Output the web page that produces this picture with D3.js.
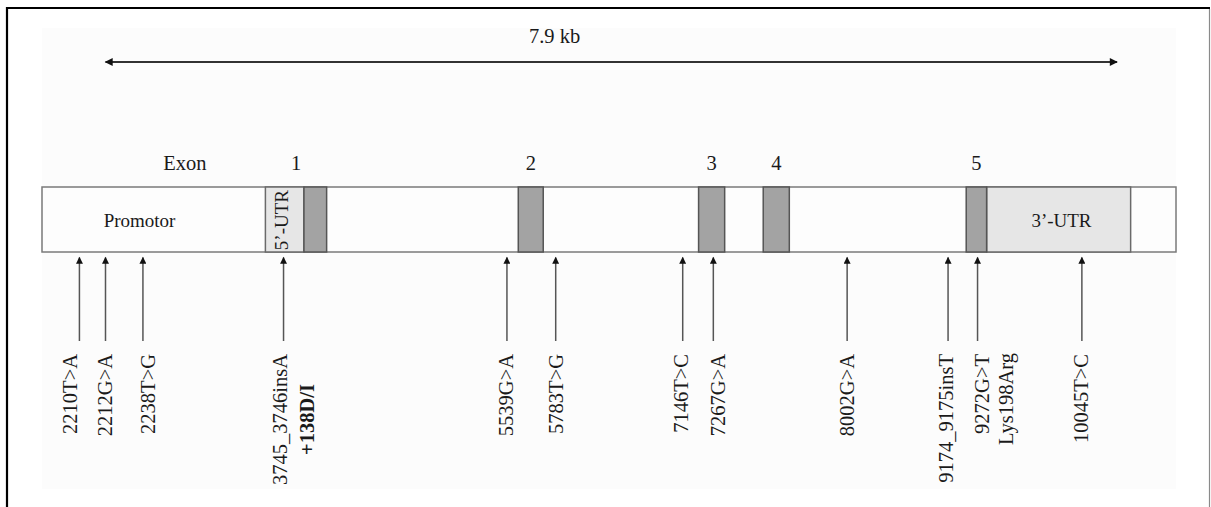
<!DOCTYPE html>
<html>
<head>
<meta charset="utf-8">
<script src="https://cdn.jsdelivr.net/npm/d3@7/dist/d3.min.js"></script>
<style>
  html, body { margin: 0; padding: 0; background: #ffffff; }
  svg { display: block; }
  text { font-family: "Liberation Serif", "Times New Roman", serif; fill: #1a1a1a; }
</style>
</head>
<body>
<script>
// ---------------- DATA (schematic positions along the gene bar, 0–100 %) ----------------
const spanLabel = "7.9 kb";
const spanRange = [5.6, 94.8];

const regionLabels = ["Promotor", "5’-UTR", "3’-UTR"];
const regionStart  = [0.0, 19.7, 83.3];
const regionEnd    = [19.7, 23.1, 96.0];

const exonNumbers = ["1", "2", "3", "4", "5"];
const exonStart   = [23.1, 42.0, 57.9, 63.6, 81.5];
const exonEnd     = [25.1, 44.2, 60.2, 65.9, 83.3];

const variantNames = ["2210T>A", "2212G>A", "2238T>G", "3745_3746insA", "5539G>A", "5783T>G",
                      "7146T>C", "7267G>A", "8002G>A", "9174_9175insT", "9272G>T", "10045T>C"];
const variantNotes = ["", "", "", "+138D/I", "", "", "", "", "", "", "Lys198Arg", ""];
const variantPos   = [3.3, 5.6, 8.9, 21.3, 41.0, 45.3, 56.5, 59.2, 71.0, 79.9, 82.5, 91.7];

// ---------------- LAYOUT ----------------
const W = 1211, H = 507;
const barTop = 187, barBottom = 252;
const fontSize = 20.5;
const x = d3.scaleLinear().domain([0, 100]).range([42, 1176]);
// small hand nudges of label columns relative to their arrows (px)
const labelNudge = [-9, 0, 6, -3.5, 0, 1, -1.5, 5, 0, -2, 5, 0];
// hand placement of the horizontal in-bar labels (bar units) and their size
const regionLabelAt = { "Promotor": 8.6, "3’-UTR": 89.9 };
const regionLabelSize = 19;

const svg = d3.select("body").append("svg").attr("width", W).attr("height", H);

const defs = svg.append("defs");
defs.append("marker").attr("id", "headBig").attr("viewBox", "0 0 10 10")
  .attr("refX", 9).attr("refY", 5).attr("markerWidth", 11).attr("markerHeight", 8)
  .attr("markerUnits", "userSpaceOnUse").attr("orient", "auto-start-reverse")
  .append("path").attr("d", "M0,0 L10,5 L0,10 Z").attr("fill", "#111");
defs.append("marker").attr("id", "headSmall").attr("viewBox", "0 0 10 10")
  .attr("refX", 9).attr("refY", 5).attr("markerWidth", 8).attr("markerHeight", 7)
  .attr("markerUnits", "userSpaceOnUse").attr("orient", "auto")
  .append("path").attr("d", "M0,0 L10,5 L0,10 Z").attr("fill", "#111");

// frame
svg.append("rect").attr("x", 42).attr("y", 28).attr("width", x(100) - 42).attr("height", 461)
  .attr("fill", "#fcfcfc");
svg.append("line").attr("x1", 6).attr("x2", 1210).attr("y1", 8).attr("y2", 8)
  .attr("stroke", "#000").attr("stroke-width", 2.2);
svg.append("line").attr("x1", 7).attr("x2", 7).attr("y1", 7).attr("y2", H)
  .attr("stroke", "#000").attr("stroke-width", 2.2);
svg.append("line").attr("x1", 1209.5).attr("x2", 1209.5).attr("y1", 9).attr("y2", H)
  .attr("stroke", "#8a8a8a").attr("stroke-width", 1.2);

// span arrow
const yS = 62;
svg.append("line").attr("x1", x(spanRange[0])).attr("x2", x(spanRange[1]))
  .attr("y1", yS).attr("y2", yS).attr("stroke", "#333").attr("stroke-width", 2.2)
  .attr("marker-start", "url(#headBig)").attr("marker-end", "url(#headBig)");
svg.append("text").attr("x", x(45.2)).attr("y", 43).attr("text-anchor", "middle")
  .attr("font-size", fontSize).text(spanLabel);

// gene bar
svg.append("rect").attr("x", x(0)).attr("y", barTop).attr("width", x(100) - x(0))
  .attr("height", barBottom - barTop).attr("fill", "#fdfdfd")
  .attr("stroke", "#7a7a7a").attr("stroke-width", 1.5);

// UTR regions
const regions = regionLabels.map((l, i) => ({ label: l, s: regionStart[i], e: regionEnd[i] }));
regions.forEach((r, i) => {
  if (r.label.includes("UTR")) {
    defs.append("clipPath").attr("id", "clip" + i).append("rect")
      .attr("x", x(r.s)).attr("y", barTop).attr("width", x(r.e) - x(r.s)).attr("height", barBottom - barTop);
    svg.append("rect").attr("x", x(r.s)).attr("y", barTop).attr("width", x(r.e) - x(r.s))
      .attr("height", barBottom - barTop).attr("fill", "#e6e6e6")
      .attr("stroke", "#6a6a6a").attr("stroke-width", 1.5);
  }
});
// region labels
regions.forEach((r, i) => {
  const w = x(r.e) - x(r.s);
  if (w > 80) {
    const cx = regionLabelAt[r.label] !== undefined ? x(regionLabelAt[r.label]) : (x(r.s) + x(r.e)) / 2;
    svg.append("text").attr("x", cx).attr("y", 227)
      .attr("text-anchor", "middle").attr("font-size", regionLabelSize).text(r.label);
  } else {
    svg.append("g").attr("clip-path", "url(#clip" + i + ")")
      .append("text").attr("transform", `translate(${(x(r.s) + x(r.e)) / 2 + 3.5},190) rotate(-90)`)
      .attr("text-anchor", "end").attr("font-size", regionLabelSize).text(r.label);
  }
});

// exons
const exons = exonNumbers.map((n, i) => ({ n, s: exonStart[i], e: exonEnd[i] }));
svg.selectAll("rect.exon").data(exons).join("rect").attr("class", "exon")
  .attr("x", d => x(d.s)).attr("y", barTop).attr("width", d => x(d.e) - x(d.s))
  .attr("height", barBottom - barTop).attr("fill", "#a3a3a3")
  .attr("stroke", "#555").attr("stroke-width", 1.5);

// exon labels (exon 1 label spans its 5'-UTR part too)
svg.append("text").attr("x", x(12.6)).attr("y", 170).attr("text-anchor", "middle")
  .attr("font-size", fontSize).text("Exon");
svg.selectAll("text.exnum").data(exons).join("text").attr("class", "exnum")
  .attr("x", d => {
    const r = regions.find(r => r.label.startsWith("5") && r.e === d.s);
    return (x(r ? r.s : d.s) + x(d.e)) / 2;
  })
  .attr("y", 170).attr("text-anchor", "middle").attr("font-size", fontSize).text(d => d.n);

// variants
const variants = variantNames.map((n, i) => ({ n, note: variantNotes[i], p: variantPos[i], nudge: labelNudge[i] }));
svg.selectAll("line.var").data(variants).join("line").attr("class", "var")
  .attr("x1", d => x(d.p)).attr("x2", d => x(d.p))
  .attr("y1", 341).attr("y2", 257.5)
  .attr("stroke", "#555").attr("stroke-width", 1.5)
  .attr("marker-end", "url(#headSmall)");

const yEnd = 354;
const lineGap = 26;
variants.forEach(d => {
  const bx = x(d.p) + 6.5 + d.nudge;
  const g = svg.append("g");
  const t1 = g.append("text").attr("transform", `translate(${bx},${yEnd}) rotate(-90)`)
    .attr("text-anchor", "end").attr("font-size", fontSize).text(d.n);
  if (d.note) {
    const bold = d.note.startsWith("+");
    if (bold) {
      const len = t1.node().getComputedTextLength();
      g.append("text").attr("transform", `translate(${bx + lineGap + 1},${yEnd + len / 2}) rotate(-90)`)
        .attr("text-anchor", "middle").attr("font-size", fontSize).attr("font-weight", "bold").text(d.note);
    } else {
      g.append("text").attr("transform", `translate(${bx + lineGap - 2},${yEnd - 1}) rotate(-90)`)
        .attr("text-anchor", "end").attr("font-size", fontSize).text(d.note);
    }
  }
});
</script>
</body>
</html>
